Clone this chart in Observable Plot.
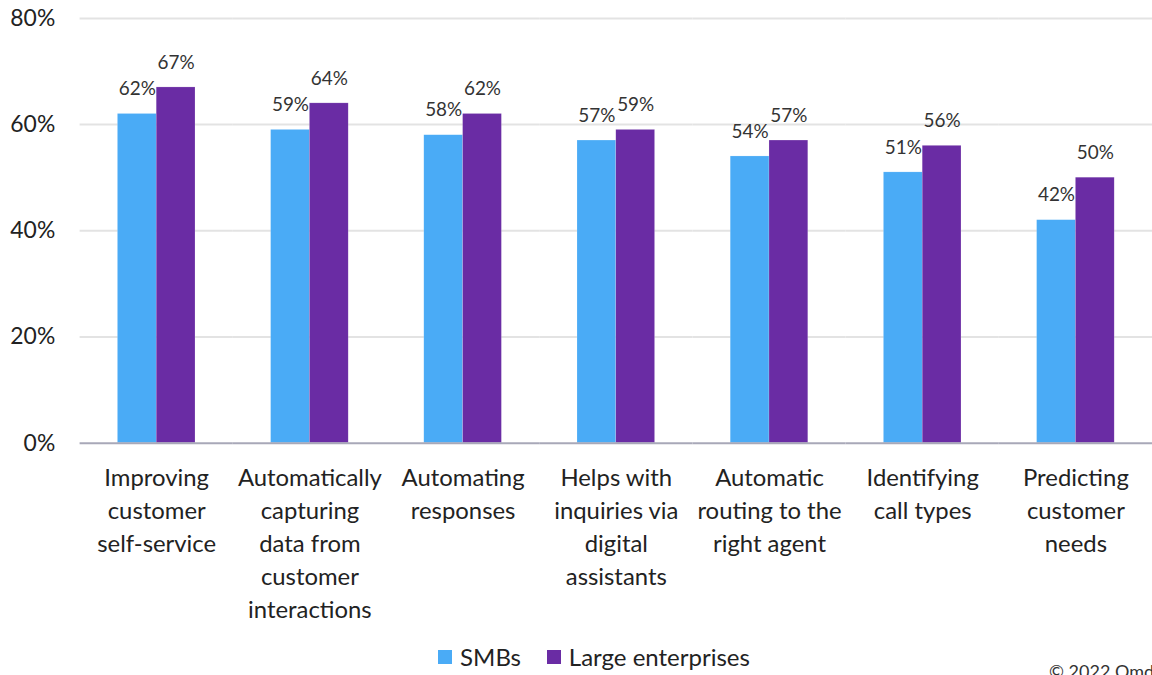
<!DOCTYPE html>
<html>
<head>
<meta charset="utf-8">
<script src="https://cdn.jsdelivr.net/npm/d3@7"></script>
<script src="https://cdn.jsdelivr.net/npm/@observablehq/plot@0.6"></script>
<style>
  html, body { margin: 0; padding: 0; background: #fff; }
  #wrap { position: relative; width: 1152px; height: 675px; overflow: hidden; font-family: Lato, "Open Sans", sans-serif; color: #222; }
  #chart { position: absolute; left: 0; top: 0; }
  #legend { position: absolute; top: 642px; left: 0; width: 1152px; display: flex; justify-content: center; gap: 26px; font-size: 24px; padding-left: 36px; box-sizing: border-box; }
  #legend .item { display: flex; align-items: center; gap: 8px; }
  #legend .sw { width: 14px; height: 14px; display: inline-block; }
  #caption { position: absolute; left: 1049px; top: 660px; font-size: 18px; color: #333; white-space: nowrap; }
</style>
</head>
<body>
<div id="wrap">
  <div id="chart"></div>
  <div id="legend"></div>
  <div id="caption">© 2022 Omdia</div>
</div>
<script>
const categories = [
  "Improving customer self-service",
  "Automatically capturing data from customer interactions",
  "Automating responses",
  "Helps with inquiries via digital assistants",
  "Automatic routing to the right agent",
  "Identifying call types",
  "Predicting customer needs"
];
const categoryLabels = [
  "Improving\ncustomer\nself-service",
  "Automatically\ncapturing\ndata from\ncustomer\ninteractions",
  "Automating\nresponses",
  "Helps with\ninquiries via\ndigital\nassistants",
  "Automatic\nrouting to the\nright agent",
  "Identifying\ncall types",
  "Predicting\ncustomer\nneeds"
];
const series = ["SMBs", "Large enterprises"];
const colors = ["#4aabf6", "#6a2ca4"];
const smbValues = [62, 59, 58, 57, 54, 51, 42];
const largeValues = [67, 64, 62, 59, 57, 56, 50];
const yTicks = [0, 0.2, 0.4, 0.6, 0.8];

const data = [];
categories.forEach((c, i) => {
  data.push({category: c, series: series[0], value: smbValues[i] / 100});
  data.push({category: c, series: series[1], value: largeValues[i] / 100});
});
const catLabels = categories.map((c, i) => ({category: c, label: categoryLabels[i]}));

const chart = Plot.plot({
  width: 1158,
  height: 637,
  marginLeft: 80,
  marginRight: 0,
  marginTop: 18,
  marginBottom: 192,
  style: {fontFamily: "Lato, 'Open Sans', sans-serif", color: "#222", background: "#fff"},
  fx: {domain: categories, padding: 0, label: null, axis: null},
  x: {domain: series, paddingInner: 0, paddingOuter: 0.95, axis: null},
  y: {domain: [0, 0.8], label: null, axis: null},
  color: {domain: series, range: colors},
  marks: [
    Plot.gridY({ticks: yTicks.slice(1), stroke: "#e3e3e3", strokeOpacity: 1, strokeWidth: 2}),
    Plot.axisY({ticks: yTicks, tickFormat: d => Math.round(d * 100) + "%", tickSize: 0, tickPadding: 25, fontSize: 23, label: null, fill: "#222"}),
    Plot.barY(data, {fx: "category", x: "series", y: "value", fill: "series", inset: 0, stroke: "#ffffff", strokeOpacity: 0.35, strokeWidth: 0.5}),
    Plot.ruleY([0], {stroke: "#a8a8b8", strokeWidth: 2}),
    Plot.text(data, {fx: "category", x: "series", y: "value", text: d => Math.round(d.value * 100) + "%", dy: -25, fontSize: 19, fill: "#333"}),
    Plot.text(catLabels, {fx: "category", text: "label", frameAnchor: "bottom", lineAnchor: "top", dy: 20, fontSize: 24, lineHeight: 1.375, fill: "#222"})
  ]
});
document.getElementById("chart").appendChild(chart);

const legend = document.getElementById("legend");
series.forEach((s, i) => {
  const item = document.createElement("div");
  item.className = "item";
  const sw = document.createElement("span");
  sw.className = "sw";
  sw.style.background = colors[i];
  const t = document.createElement("span");
  t.textContent = s;
  item.appendChild(sw);
  item.appendChild(t);
  legend.appendChild(item);
});
</script>
</body>
</html>
